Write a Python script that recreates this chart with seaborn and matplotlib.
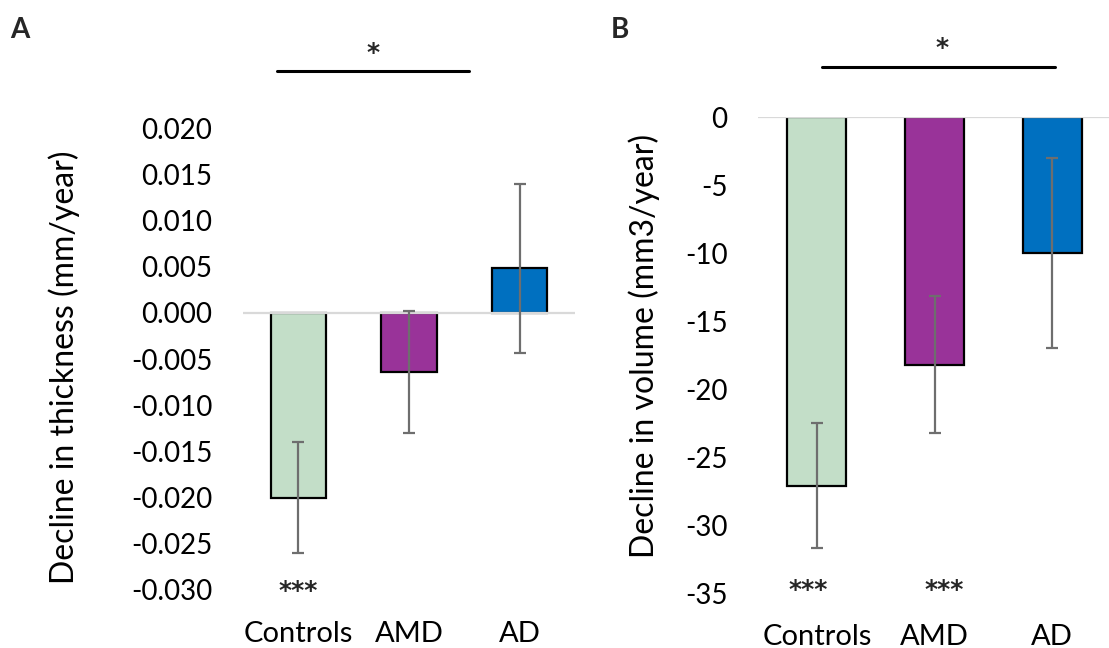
import matplotlib
matplotlib.use("Agg")
import matplotlib.pyplot as plt
from matplotlib.lines import Line2D
import seaborn as sns
import pandas as pd

# ---------------- data ----------------
groups = ["Controls", "AMD", "AD"]
colors = ["#C3DEC8", "#993399", "#0070C0"]

thickness_mean = [-0.0200, -0.0064, 0.0048]
thickness_err = [0.0060, 0.0066, 0.0091]
thickness_ticks = [0.020, 0.015, 0.010, 0.005, 0.000, -0.005, -0.010, -0.015, -0.020, -0.025, -0.030]
thickness_ticklabels = ["0.020", "0.015", "0.010", "0.005", "0.000", "-0.005", "-0.010",
                        "-0.015", "-0.020", "-0.025", "-0.030"]
thickness_stars = ["***", "", ""]

volume_mean = [-27.1, -18.2, -10.0]
volume_err = [4.6, 5.05, 7.0]
volume_ticks = [0, -5, -10, -15, -20, -25, -30, -35]
volume_ticklabels = ["0", "-5", "-10", "-15", "-20", "-25", "-30", "-35"]
volume_stars = ["***", "***", ""]

# ---------------- style ----------------
sns.set_theme(style="white")
plt.rcParams["font.family"] = ["Lato", "DejaVu Sans"]
plt.rcParams["axes.unicode_minus"] = False

W, H = 1109, 648
fig = plt.figure(figsize=(W / 100, H / 100), dpi=100)
fig.patch.set_facecolor("white")


def px_axes(left, top, right, bottom):
    return fig.add_axes([left / W, 1 - bottom / H, (right - left) / W, (bottom - top) / H])


axA = px_axes(243, 128, 575, 590)
axB = px_axes(758, 117, 1111, 593)

FS = 20
STAR_FONT = dict(family="DejaVu Sans", fontweight="bold", fontsize=18)


def draw_panel(ax, means, errs, ticks, ticklabels, ylim, ylabel, label_xy, stars, star_y, star_dx):
    df = pd.DataFrame({"group": groups, "value": means})
    sns.barplot(data=df, x="group", y="value", hue="group", palette=colors,
                order=groups, hue_order=groups, width=0.5, edgecolor="black",
                linewidth=1.6, saturation=1, legend=False, errorbar=None, ax=ax, zorder=2)
    ax.axhline(0, color="#D9D9D9", lw=1.6, zorder=3)
    ax.errorbar(range(len(groups)), means, yerr=errs, fmt="none", ecolor="#6E6E6E",
                elinewidth=1.6, capsize=4.3, capthick=1.6, zorder=4)
    ax.set_xlim(-0.5, 2.5)
    ax.set_ylim(*ylim)
    ax.set_yticks(ticks)
    ax.set_yticklabels(ticklabels)
    ax.tick_params(axis="y", length=0, pad=22, labelsize=FS, labelcolor="black")
    ax.tick_params(axis="x", length=0, pad=22, labelsize=21, labelcolor="black")
    ax.set_xlabel("")
    ax.set_ylabel(ylabel, fontsize=23, color="black", va="center")
    ax.yaxis.set_label_coords(*label_xy)
    for s in ax.spines.values():
        s.set_visible(False)
    ax.grid(False)
    ax.set_facecolor("white")
    for i, st in enumerate(stars):
        if st:
            ax.text(i + star_dx[i], star_y, st, ha="center", va="baseline",
                    clip_on=False, **STAR_FONT)


draw_panel(axA, thickness_mean, thickness_err, thickness_ticks, thickness_ticklabels,
           (-0.030, 0.020), "Decline in thickness (mm/year)", (-0.539, 0.482),
           thickness_stars, -0.0309, [0, 0, 0])
draw_panel(axB, volume_mean, volume_err, volume_ticks, volume_ticklabels,
           (-35, 0), "Decline in volume (mm3/year)", (-0.323, 0.518),
           volume_stars, -35.26, [-0.07, 0.08, 0])

# significance bars (figure pixel coords)
def sig(x0, x1, y, sx, sy):
    fig.add_artist(Line2D([x0 / W, x1 / W], [1 - y / H, 1 - y / H],
                          transform=fig.transFigure, color="black", lw=2.2))
    fig.text(sx / W, 1 - sy / H, "*", ha="center", va="baseline", **STAR_FONT)

sig(277, 469, 71, 373, 60)
sig(822, 1055, 67, 942, 55)

fig.text(20 / W, 1 - 30 / H, "A", ha="center", va="center", fontsize=20, fontweight="bold")
fig.text(620 / W, 1 - 30 / H, "B", ha="center", va="center", fontsize=20, fontweight="bold")

fig.savefig("out.png", dpi=100, facecolor="white")
